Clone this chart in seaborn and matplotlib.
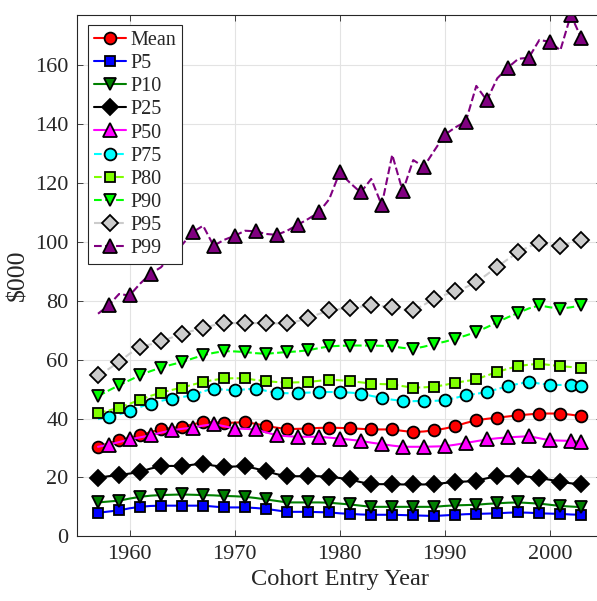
import matplotlib
matplotlib.use("Agg")
import matplotlib.pyplot as plt
import numpy as np
import pandas as pd
import seaborn as sns

## Data (values in $000, one per cohort entry year 1957-2003) ##
years = list(range(1957, 2004))

mean_v = [30.4, 31.6, 32.6, 33.5, 34.3, 35.4, 36.3, 36.8, 37.2, 38.0,
          38.8, 38.7, 38.5, 38.6, 38.8, 38.2, 37.5, 36.9, 36.4, 36.5,
          36.6, 36.8, 36.9, 36.8, 36.7, 36.5, 36.3, 36.3, 36.3, 35.8,
          35.4, 35.6, 36.0, 36.6, 37.4, 38.5, 39.4, 39.9, 40.3, 40.7,
          41.1, 41.4, 41.7, 41.7, 41.7, 41.3, 40.8]
p5 = [8.0, 8.4, 8.8, 9.5, 10.0, 10.3, 10.4, 10.4, 10.4, 10.4,
      10.4, 10.1, 9.8, 9.8, 9.8, 9.6, 9.3, 8.8, 8.3, 8.3,
      8.3, 8.2, 8.1, 7.8, 7.6, 7.4, 7.3, 7.3, 7.3, 7.2,
      7.1, 7.0, 6.9, 7.1, 7.3, 7.5, 7.6, 7.7, 7.8, 8.0,
      8.1, 8.0, 7.8, 7.7, 7.6, 7.4, 7.3]
p10 = [11.5, 11.8, 12.1, 12.8, 13.4, 13.8, 14.0, 14.1, 14.2, 14.1,
       14.0, 13.9, 13.7, 13.6, 13.4, 13.0, 12.5, 12.0, 11.5, 11.5,
       11.5, 11.5, 11.4, 11.1, 10.8, 10.4, 10.0, 10.0, 10.0, 10.0,
       10.0, 10.0, 10.0, 10.3, 10.5, 10.6, 10.7, 11.0, 11.2, 11.4,
       11.5, 11.3, 11.1, 10.7, 10.3, 10.1, 9.9]
p25 = [19.9, 20.4, 20.8, 21.3, 21.9, 23.0, 23.8, 23.9, 23.8, 24.3,
       24.7, 24.0, 23.6, 23.7, 23.8, 23.0, 22.1, 21.1, 20.4, 20.4,
       20.4, 20.4, 20.2, 19.8, 19.3, 18.4, 17.7, 17.7, 17.7, 17.6,
       17.6, 17.6, 17.7, 18.1, 18.5, 18.6, 18.8, 19.7, 20.4, 20.4,
       20.4, 20.2, 19.8, 19.2, 18.5, 18.0, 17.6]
p50 = [30.4, 31.1, 32.0, 32.9, 33.6, 34.3, 35.2, 36.0, 36.5, 36.9,
       37.6, 38.1, 37.4, 36.6, 36.5, 36.3, 35.3, 34.3, 34.0, 33.8,
       33.8, 33.8, 33.5, 33.2, 32.8, 32.4, 31.8, 31.3, 30.8, 30.4,
       30.4, 30.4, 30.5, 30.6, 31.1, 31.7, 32.3, 32.9, 33.3, 33.6,
       33.8, 34.0, 33.3, 32.6, 32.5, 32.4, 32.1]
p75 = [39.8, 40.5, 41.4, 42.5, 43.9, 45.1, 46.0, 46.8, 47.3, 47.9,
       49.2, 50.2, 49.8, 49.6, 49.9, 50.2, 49.4, 48.7, 48.6, 48.7,
       48.8, 49.0, 49.0, 49.0, 48.8, 48.5, 47.7, 47.0, 46.4, 46.0,
       45.9, 46.0, 46.0, 46.2, 47.0, 47.9, 48.4, 49.0, 50.0, 51.0,
       51.8, 52.4, 51.9, 51.5, 51.4, 51.5, 51.1]
p80 = [41.9, 42.7, 43.7, 45.0, 46.4, 47.7, 48.8, 49.7, 50.5, 51.5,
       52.4, 53.1, 53.6, 53.7, 53.6, 53.1, 52.7, 52.4, 52.2, 52.3,
       52.4, 52.8, 53.2, 53.0, 52.7, 52.3, 51.9, 51.7, 51.6, 51.0,
       50.5, 50.6, 50.8, 51.4, 52.2, 52.7, 53.3, 54.6, 55.8, 56.9,
       57.8, 58.3, 58.6, 58.2, 57.8, 57.5, 57.2]
p90 = [47.6, 49.5, 51.3, 53.0, 54.7, 56.1, 57.3, 58.3, 59.2, 60.4,
       61.5, 62.3, 62.9, 62.8, 62.6, 62.2, 62.0, 62.3, 62.6, 62.8,
       63.2, 63.9, 64.5, 64.7, 64.8, 64.8, 64.8, 64.7, 64.5, 64.0,
       63.7, 64.4, 65.3, 66.1, 67.1, 68.2, 69.4, 71.0, 72.7, 74.4,
       75.9, 77.4, 78.4, 77.8, 77.3, 77.8, 78.4]
p95 = [54.7, 56.8, 59.2, 62.0, 64.3, 65.2, 66.2, 67.5, 68.8, 69.8,
       70.7, 71.7, 72.4, 72.4, 72.4, 72.4, 72.4, 72.3, 72.4, 73.1,
       74.1, 75.5, 76.7, 77.2, 77.5, 78.0, 78.4, 78.2, 77.8, 77.1,
       76.7, 78.6, 80.7, 82.0, 83.3, 84.6, 86.3, 88.9, 91.6, 94.1,
       96.5, 98.4, 99.5, 99.0, 98.7, 99.6, 100.7]
p99 = [75.6, 78.4, 82.3, 81.8, 85.8, 89.2, 91.4, 95.5, 99.0, 103.3,
       105.5, 98.7, 100.7, 102.1, 103.8, 103.6, 102.7, 102.4, 103.8, 105.8,
       107.8, 110.0, 114.5, 123.6, 120.0, 116.8, 121.4, 112.5, 129.6, 117.2,
       127.8, 125.5, 131.0, 136.4, 138.9, 140.9, 153.0, 148.1, 155.6, 159.2,
       162.2, 162.6, 168.6, 168.0, 165.1, 177.1, 169.2]

labels = ["Mean", "P5", "P10", "P25", "P50", "P75", "P80", "P90", "P95", "P99"]
series = [mean_v, p5, p10, p25, p50, p75, p80, p90, p95, p99]

## Styles ##
colors = ["red", "blue", "#008000", "black", "magenta", "cyan",
          "#80ff00", "#00ff00", "#cccccc", "#800080"]
markers = ["o", "s", "v", "D", "^", "o", "s", "v", "D", "^"]
msizes = [8.5, 7, 9, 8, 9.5, 8.5, 7, 9, 8, 10]
styles = ["-", "-", "-", "-", "-", "--", "--", "--", "--", "--"]
odd_marks = list(range(0, 47, 2))
even_marks = list(range(1, 47, 2)) + [46]
marks = [odd_marks, odd_marks, odd_marks, odd_marks, even_marks,
         even_marks, odd_marks, odd_marks, odd_marks, even_marks]

sns.set_style("ticks")
plt.rcParams["font.family"] = ["Liberation Serif", "DejaVu Serif"]

fig = plt.figure(figsize=(5.97, 6.01), dpi=100)
ax = fig.add_axes([0.129, 0.1077, 0.880, 0.8674])

for lab, vals, c, m, ms, ls, mk in zip(labels, series, colors, markers, msizes, styles, marks):
    df = pd.DataFrame({"year": years, "value": vals})
    sns.lineplot(data=df, x="year", y="value", ax=ax, color=c, linestyle=ls,
                 linewidth=1.5, marker=m, markersize=ms, markevery=mk,
                 markerfacecolor=c, markeredgecolor="black", markeredgewidth=1.3,
                 label=lab)

ax.set_xlim(1955, 2005)
ax.set_ylim(0, max(p99))
ax.set_yticks(range(0, 161, 20))
ax.set_xticks(range(1960, 2001, 10))
ax.grid(True, color="#e3e3e3", linewidth=0.8)
ax.set_axisbelow(True)

for s in ax.spines.values():
    s.set_color("#262626")
    s.set_linewidth(0.8)
ax.tick_params(direction="in", top=True, right=True, labelsize=16,
               colors="#262626", length=4, width=0.6, pad=6)

ax.set_xlabel("Cohort Entry Year", fontsize=17.6, color="#262626", labelpad=4)
ax.set_ylabel("$000", fontsize=18.5, color="#262626", labelpad=4)

leg = ax.legend(loc="upper left", bbox_to_anchor=(0.021, 0.981), fontsize=14.5,
                handlelength=1.6, handletextpad=0.2, labelspacing=0.2,
                borderpad=0.3, borderaxespad=0.0, fancybox=False,
                edgecolor="#262626", framealpha=1)
leg.get_frame().set_linewidth(0.8)

fig.savefig("out.png", dpi=100)
